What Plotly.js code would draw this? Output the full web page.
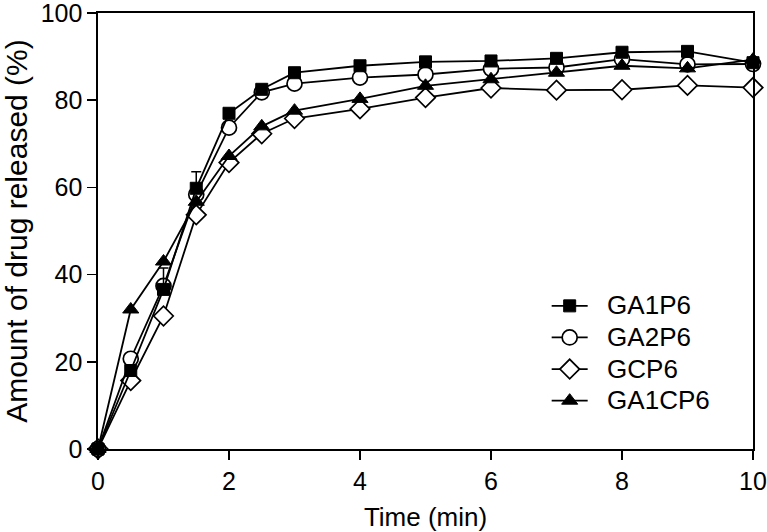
<!DOCTYPE html>
<html>
<head>
<meta charset="utf-8">
<script src="https://cdn.plot.ly/plotly-3.0.1.min.js"></script>
<style>html,body{margin:0;padding:0;background:#fff;}#chart{width:767px;height:532px;}</style>
</head>
<body>
<div id="chart"></div>
<script>
var time = [0, 0.5, 1, 1.5, 2, 2.5, 3, 4, 5, 6, 7, 8, 9, 10];
var GA1P6 = [0, 18.0, 36.6, 59.8, 77.0, 82.5, 86.3, 87.9, 88.8, 89.0, 89.6, 91.0, 91.2, 88.6];
var GA1P6_err = [0, 0, 4.9, 3.8, 0, 0, 0, 0, 0, 0, 0, 0, 0, 0];
var GA2P6 = [0, 20.7, 37.4, 58.4, 73.7, 81.8, 83.8, 85.2, 85.9, 87.2, 87.5, 89.4, 88.2, 88.3];
var GCP6 = [0, 15.7, 30.5, 53.7, 65.7, 72.3, 75.8, 78.0, 80.6, 82.8, 82.3, 82.4, 83.4, 82.9];
var GA1CP6 = [0, 32.0, 43.0, 56.7, 67.2, 74.0, 77.6, 80.3, 83.3, 84.8, 86.3, 87.9, 87.3, 89.3];
var seriesNames = ['GA1P6', 'GA2P6', 'GCP6', 'GA1CP6'];
var xTicks = [0, 2, 4, 6, 8, 10];
var yTicks = [0, 20, 40, 60, 80, 100];

function legendName(s) {
  return '<span style="font-size:26px">\u00a0\u00a0' + s + '</span>';
}
var lineStyle = {color: '#000', width: 1.8};
var traces = [
  {x: time, y: GCP6, name: legendName(seriesNames[2]), legendrank: 3, type: 'scatter', mode: 'lines+markers', cliponaxis: false,
   line: lineStyle, marker: {symbol: 'diamond', size: 15, color: '#fff', line: {color: '#000', width: 1.7}}},
  {x: time, y: GA2P6, name: legendName(seriesNames[1]), legendrank: 2, type: 'scatter', mode: 'lines+markers', cliponaxis: false,
   line: lineStyle, marker: {symbol: 'circle', size: 15, color: '#fff', line: {color: '#000', width: 1.7}}},
  {x: time, y: GA1CP6, name: legendName(seriesNames[3]), legendrank: 4, type: 'scatter', mode: 'lines+markers', cliponaxis: false,
   line: lineStyle, marker: {symbol: 'triangle-up', size: 14, color: '#000', line: {color: '#000', width: 1}}},
  {x: time, y: GA1P6, name: legendName(seriesNames[0]), legendrank: 1, type: 'scatter', mode: 'lines+markers', cliponaxis: false,
   line: lineStyle, marker: {symbol: 'square', size: 12, color: '#000', line: {color: '#000', width: 1}},
   error_y: {type: 'data', array: GA1P6_err, arrayminus: time.map(function(){return 0;}), symmetric: false,
             color: '#000', thickness: 1.5, width: 5}}
];

var fam = 'Liberation Sans, Arial, sans-serif';
var font = {family: fam, size: 25, color: '#000'};
var layout = {
  width: 767, height: 532,
  margin: {l: 98, r: 14, t: 13, b: 83},
  paper_bgcolor: '#fff', plot_bgcolor: '#fff',
  font: font,
  showlegend: true,
  legend: {x: 0.685, y: 0.376, xanchor: 'left', yanchor: 'top', bgcolor: 'rgba(0,0,0,0)',
           font: {family: fam, size: 22, color: '#000'}, itemwidth: 36, traceorder: 'normal'},
  xaxis: {range: [0, 10], tickvals: xTicks, ticktext: xTicks.map(String), showgrid: false, zeroline: false,
          showline: true, linecolor: '#000', linewidth: 1.6, mirror: true, ticklabeloverflow: 'allow',
          ticks: 'outside', ticklen: 9, tickwidth: 1.5, tickcolor: '#000',
          tickfont: font, title: {text: 'Time (min)', font: {family: fam, size: 26, color: '#000'}, standoff: 14}},
  yaxis: {range: [0, 100], tickvals: yTicks, ticktext: yTicks.map(String), showgrid: false, zeroline: false,
          showline: true, linecolor: '#000', linewidth: 1.6, mirror: true, ticklabeloverflow: 'allow',
          ticks: 'outside', ticklen: 9, tickwidth: 1.5, tickcolor: '#000',
          tickfont: font,
          title: {text: '\u00a0\u00a0\u00a0\u00a0\u00a0\u00a0Amount of drug released (%)', font: {family: fam, size: 30, color: '#000'}, standoff: 16}}
};
Plotly.newPlot('chart', traces, layout, {staticPlot: true, displayModeBar: false});
</script>
</body>
</html>
